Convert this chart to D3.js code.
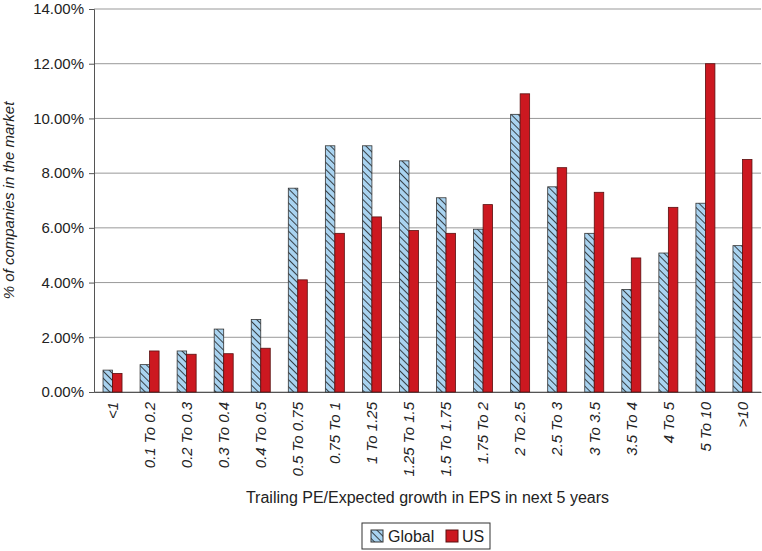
<!DOCTYPE html>
<html><head><meta charset="utf-8">
<script src="https://cdn.jsdelivr.net/npm/d3@7"></script>
<style>body{margin:0;background:#fff}text{font-family:"Liberation Sans",Arial,sans-serif}</style>
</head><body>
<svg width="762" height="551"></svg>
<script>
var categories = ["<1","0.1 To 0.2","0.2 To 0.3","0.3 To 0.4","0.4 To 0.5","0.5 To 0.75","0.75 To 1","1 To 1.25","1.25 To 1.5","1.5 To 1.75","1.75 To 2","2 To 2.5","2.5 To 3","3 To 3.5","3.5 To 4","4 To 5","5 To 10",">10"];
var globalVals = [0.8,1.0,1.5,2.3,2.65,7.45,9.0,9.0,8.45,7.1,5.95,10.15,7.5,5.8,3.75,5.08,6.9,5.35];
var usVals = [0.68,1.5,1.38,1.4,1.6,4.1,5.8,6.4,5.9,5.8,6.85,10.9,8.2,7.3,4.9,6.75,12.0,8.5];
var yTicks = [0,2,4,6,8,10,12,14];

var svg = d3.select("svg"),
    mLeft = 94, mRight = 761, mTop = 9, mBottom = 392;

var defs = svg.append("defs");
var pat = defs.append("pattern").attr("id","hatch").attr("patternUnits","userSpaceOnUse")
    .attr("width",5).attr("height",5).attr("patternTransform","rotate(-45)");
pat.append("rect").attr("width",5).attr("height",5).attr("fill","#a9d3f0");
pat.append("line").attr("x1",0).attr("y1",0).attr("x2",0).attr("y2",5).attr("stroke","#1a1a1a").attr("stroke-width",1.6);

var x = d3.scaleBand().domain(categories).range([mLeft, mRight]);
var y = d3.scaleLinear().domain([0,14]).range([mBottom, mTop]);
var bw = 9.5;

// gridlines
svg.append("g").selectAll("line").data(yTicks).enter().append("line")
  .attr("x1", mLeft).attr("x2", mRight).attr("y1", y).attr("y2", y)
  .attr("stroke", "#999").attr("stroke-width", 1);

var yAxis = svg.append("g").attr("transform","translate(" + mLeft + ",0)")
  .call(d3.axisLeft(y).tickValues(yTicks).tickSize(5).tickFormat(function(d){ return d.toFixed(2) + "%"; }));
yAxis.select(".domain").attr("stroke","#555");
yAxis.selectAll("line").attr("stroke","#555");
yAxis.selectAll("text").attr("font-size",15).attr("fill","#222").attr("dx",-2);

var xAxis = svg.append("g").attr("transform","translate(0," + mBottom + ")")
  .call(d3.axisBottom(x).tickSize(0).tickSizeOuter(0));
xAxis.select(".domain").attr("stroke","#555");
xAxis.selectAll("text").attr("font-size",15).attr("fill","#222").attr("font-style","italic")
  .attr("text-anchor","end").attr("transform","rotate(-90)").attr("dy","0.35em").attr("x",-10).attr("y",0);

svg.append("g").selectAll("rect").data(globalVals).enter().append("rect")
  .attr("x", function(d,i){ return x(categories[i]) + x.bandwidth()/2 - bw; })
  .attr("y", y).attr("width", bw).attr("height", function(d){ return mBottom - y(d); })
  .attr("fill","url(#hatch)").attr("stroke","#333").attr("stroke-width",0.8);

svg.append("g").selectAll("rect").data(usVals).enter().append("rect")
  .attr("x", function(d,i){ return x(categories[i]) + x.bandwidth()/2; })
  .attr("y", y).attr("width", bw).attr("height", function(d){ return mBottom - y(d); })
  .attr("fill","#cc1820").attr("stroke","#5a1010").attr("stroke-width",0.8);

svg.append("text").attr("transform","translate(14," + ((mTop+mBottom)/2) + ")rotate(-90)")
  .attr("text-anchor","middle").attr("font-size",15).attr("font-style","italic").attr("fill","#222")
  .text("% of companies in the market");

svg.append("text").attr("x",(mLeft+mRight)/2).attr("y",503).attr("text-anchor","middle")
  .attr("font-size",16).attr("fill","#222").text("Trailing PE/Expected growth in EPS in next 5 years");

var lg = svg.append("g").attr("transform","translate(362,523)");
lg.append("rect").attr("width",128).attr("height",26).attr("fill","#fff").attr("stroke","#333");
lg.append("rect").attr("x",9).attr("y",7).attr("width",12).attr("height",12).attr("fill","url(#hatch)").attr("stroke","#333");
lg.append("text").attr("x",26).attr("y",19).attr("font-size",16).attr("fill","#222").text("Global");
lg.append("rect").attr("x",84).attr("y",7).attr("width",12).attr("height",12).attr("fill","#cc1820").attr("stroke","#5a1010");
lg.append("text").attr("x",100).attr("y",19).attr("font-size",16).attr("fill","#222").text("US");
</script>
</body></html>
